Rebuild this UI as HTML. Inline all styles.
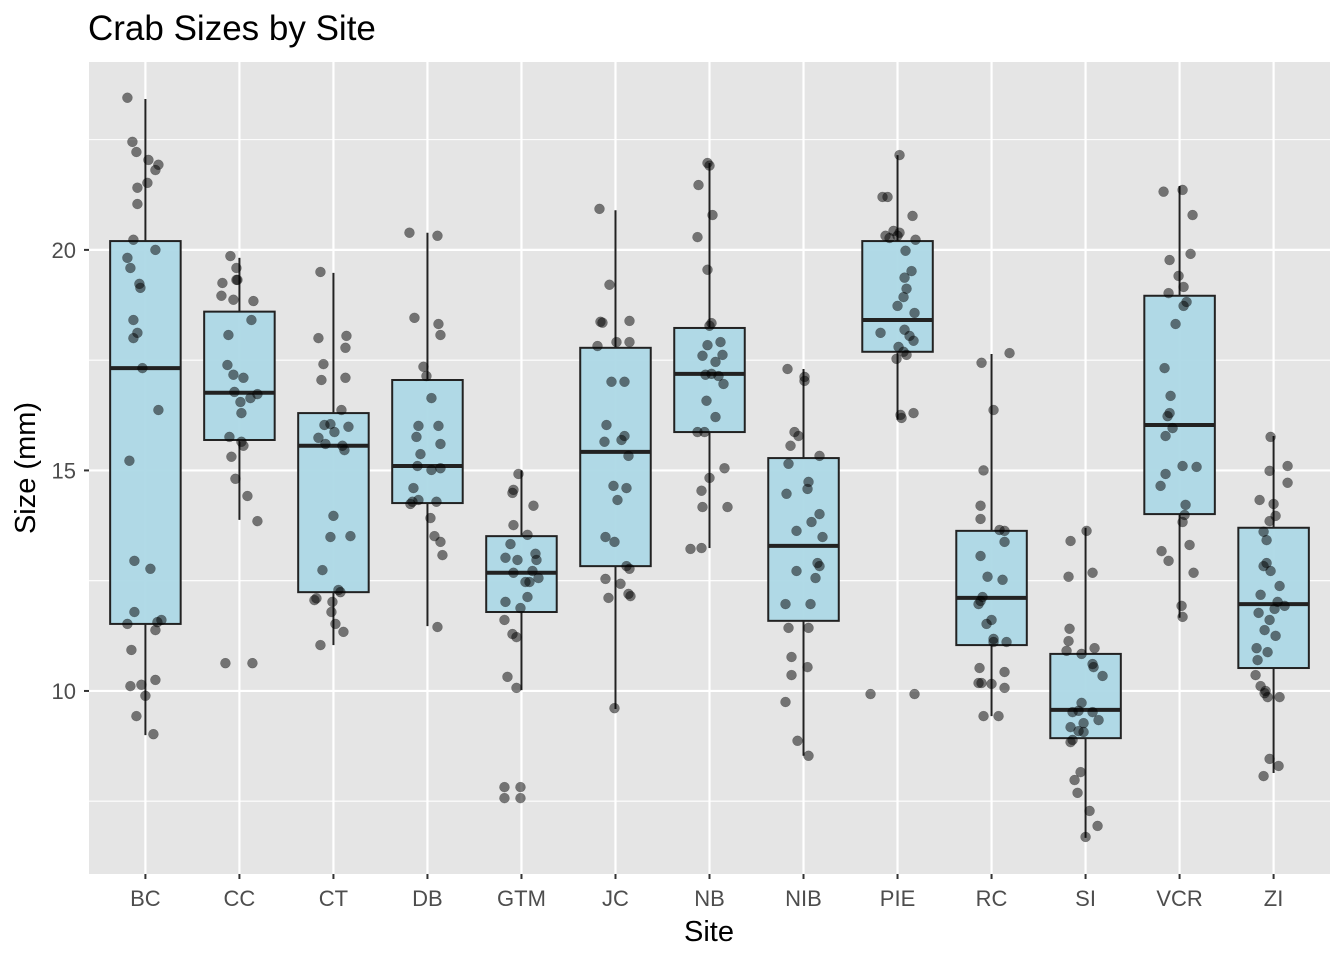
<!DOCTYPE html>
<html><head><meta charset="utf-8"><style>
html,body{margin:0;padding:0;background:#fff;}
svg{display:block;font-family:"Liberation Sans",Arial,sans-serif;}
</style></head><body>
<svg id="chart" width="1344" height="960" viewBox="0 0 1344 960">
<text x="88" y="40" font-size="35" fill="#000">Crab Sizes by Site</text>
<rect x="89" y="62" width="1241" height="812" fill="#e5e5e5"/>
<g id="grid"></g>
<g id="boxes"></g>
<g id="pts"></g>
<g id="axes"></g>
<text x="709" y="941" font-size="29" text-anchor="middle" fill="#000">Site</text>
<text transform="translate(35,468) rotate(-90)" font-size="29" text-anchor="middle" fill="#000">Size (mm)</text>
</svg>
<script>
const sites = ["BC","CC","CT","DB","GTM","JC","NB","NIB","PIE","RC","SI","VCR","ZI"];
// [lowerWhisker, q1, median, q3, upperWhisker]
const boxStats = [
[9.0,11.52,17.32,20.2,23.42],[13.88,15.69,16.76,18.6,19.82],[11.04,12.24,15.56,16.3,19.48],
[11.47,14.26,15.1,17.05,20.39],[10.02,11.79,12.68,13.51,15.0],[9.59,12.83,15.42,17.78,20.9],
[13.24,15.87,17.19,18.23,21.97],[8.53,11.59,13.29,15.28,17.3],[16.15,17.69,18.41,20.2,22.15],
[9.43,11.04,12.11,13.63,17.64],[6.67,8.93,9.57,10.84,13.7],[11.66,14.01,16.03,18.96,21.45],
[8.14,10.52,11.97,13.7,15.78]];
const yTicks = [10,15,20];
const yMinor = [7.5,12.5,17.5,22.5];
// point values per site
const values = [
[23.45,22.45,22.22,22.04,21.93,21.81,21.52,21.41,21.04,20.23,20.0,19.82,19.59,19.23,19.14,18.41,18.12,18.0,17.32,16.37,15.22,12.95,12.77,11.79,11.61,11.56,11.52,11.38,10.93,10.11,10.14,10.25,9.89,9.43,9.02],
[19.86,19.59,19.32,19.25,19.32,18.96,18.87,18.84,18.41,18.07,17.39,17.17,17.10,16.78,16.73,16.64,16.55,16.3,15.76,15.56,15.65,15.31,14.81,14.42,13.85,10.63,10.63],
[19.5,18.0,18.05,17.78,17.41,17.1,17.05,16.37,16.05,16.03,15.99,15.87,15.74,15.6,15.46,15.56,13.97,13.49,13.51,12.74,12.29,12.24,12.06,12.1,12.02,11.79,11.34,11.52,11.04],
[20.39,20.32,18.46,18.32,18.07,17.35,17.14,16.64,16.01,16.01,15.76,15.6,15.37,15.1,15.01,15.05,14.6,14.33,14.29,14.24,14.29,13.92,13.51,13.38,13.08,11.45],
[14.92,14.56,14.49,14.2,13.76,13.54,13.33,13.11,13.02,12.97,12.97,12.72,12.68,12.56,12.47,12.47,12.13,12.02,11.88,11.61,11.29,11.22,10.32,10.07,7.82,7.82,7.57,7.57],
[20.93,19.21,18.37,18.35,18.39,17.91,17.91,17.82,17.01,17.01,16.03,15.78,15.69,15.65,15.33,14.65,14.6,14.33,13.49,13.38,12.83,12.77,12.54,12.43,12.11,12.15,12.2,9.61],
[21.97,21.91,21.47,20.79,20.29,19.55,18.34,18.28,17.91,17.84,17.62,17.6,17.46,17.19,17.17,17.14,16.96,16.58,16.21,15.87,15.87,15.05,14.83,14.54,14.17,14.17,13.24,13.22],
[17.3,17.12,17.03,15.87,15.78,15.56,15.33,15.15,14.74,14.58,14.47,14.01,13.83,13.63,13.49,12.9,12.83,12.72,12.56,11.97,11.97,11.43,11.43,10.77,10.54,10.36,9.75,8.87,8.53],
[22.15,21.2,21.2,20.77,20.43,20.39,20.32,20.32,20.27,20.23,19.98,19.37,19.52,19.12,18.93,18.73,18.57,18.19,18.12,18.05,17.94,17.8,17.69,17.62,17.53,16.26,16.3,16.19,9.93,9.93],
[17.44,17.66,16.37,15.0,14.2,13.9,13.65,13.63,13.38,13.06,12.59,12.52,12.13,12.04,11.97,11.61,11.52,11.18,11.11,11.11,10.52,10.43,10.18,10.18,10.16,10.07,9.43,9.43],
[13.63,13.4,12.68,12.59,11.41,11.13,10.91,10.97,10.84,10.61,10.54,10.34,9.73,9.55,9.52,9.52,9.34,9.27,9.18,9.09,9.07,8.89,8.84,8.16,7.98,7.69,7.28,6.94,6.69],
[21.32,21.36,20.79,19.77,19.91,19.41,19.16,19.02,18.82,18.73,18.32,17.32,16.69,16.3,16.23,15.96,15.78,15.1,15.08,14.92,14.65,14.22,13.99,13.83,13.31,13.17,12.95,12.68,11.93,11.68],
[15.76,15.1,14.99,14.72,14.33,14.24,13.97,13.85,13.61,13.42,12.9,12.83,12.72,12.38,12.18,12.02,11.93,11.77,11.86,11.61,11.38,11.25,10.97,10.88,10.7,10.36,10.11,10.0,9.95,9.86,9.86,8.46,8.3,8.07]];
// horizontal jitter, in 1/94 of a category band
const jitter = [
[-18,-13,-9,3,13,10,2,-8,-8,-12,10,-18,-15,-6,-5,-12,-8,-12,-3,13,-16,-11,5,-11,16,12,-18,10,-14,-15,-4,10,0,-9,8],
[-9,-3,-2,-17,-3,-18,-6,14,12,-11,-12,-6,4,-5,18,11,1,2,-10,4,2,-8,-4,8,18,-14,13],
[-13,-15,13,12,-10,12,-12,8,-3,-9,15,1,-15,-8,11,9,0,-3,17,-11,5,7,-19,-17,-1,-2,10,2,-13],
[-18,10,-13,11,13,-4,-1,4,-9,11,-11,13,-7,-10,4,13,-14,-9,-15,-17,9,3,7,13,15,10],
[-3,-8,-9,12,-8,6,-11,14,-16,15,-4,11,-8,17,4,8,6,-16,-1,-17,-9,-5,-14,-5,-17,-1,-17,-1],
[-16,-6,-15,-13,14,14,1,-18,-4,9,-9,9,6,-11,13,-2,11,2,-10,-1,11,14,-10,5,-7,15,13,-1],
[-2,0,-11,3,-12,-2,2,0,11,-2,13,-7,6,2,-4,9,14,-3,6,-12,-5,15,0,-8,-7,18,-8,-19],
[-16,1,1,-9,-5,-13,16,-15,5,4,-17,16,8,-7,19,14,16,-7,12,-18,7,-15,5,-12,4,-12,-18,-6,5],
[2,-15,-10,15,-4,2,0,-12,-8,18,8,7,14,9,6,0,17,7,-17,12,16,1,6,9,-1,3,16,4,-27,17],
[-10,18,2,-8,-11,-11,8,13,13,-11,-4,11,-9,-11,-13,0,-5,2,2,15,-12,13,-13,-10,0,13,-8,7],
[1,-15,7,-17,-16,-17,-19,9,-4,7,8,17,-4,-7,-13,7,13,-2,-15,-7,-2,-13,-15,-5,-11,-8,4,12,0],
[-16,3,13,-10,11,-1,4,-11,7,4,-4,-15,-9,-10,-12,-7,-14,3,17,-14,-19,6,5,3,10,-18,-11,14,2,3],
[-3,14,-4,14,-14,0,2,-4,-10,-7,-7,-10,-3,6,-13,4,11,-15,1,-4,-9,2,-17,-6,-16,-18,-13,-8,-9,6,-6,-4,5,-10]];

const NS="http://www.w3.org/2000/svg";
const P={l:89,t:62,r:1330,b:874};
const yMin=5.85,yMax=24.26;
const band=(P.r-P.l)/(sites.length+0.2);
function y(v){return P.t+(yMax-v)/(yMax-yMin)*(P.b-P.t);}
function x(i){return P.l+band*(0.6+i);}
function mk(tag,attrs,parent){const e=document.createElementNS(NS,tag);for(const k in attrs)e.setAttribute(k,attrs[k]);parent.appendChild(e);return e;}
const grid=document.getElementById('grid'),boxes=document.getElementById('boxes'),pts=document.getElementById('pts'),axes=document.getElementById('axes');
yMinor.forEach(v=>{const l=mk('line',{x1:P.l,x2:P.r,y1:y(v),y2:y(v),stroke:'#fff','stroke-width':1.1},grid);

});
yTicks.forEach(v=>{const l=mk('line',{x1:P.l,x2:P.r,y1:y(v),y2:y(v),stroke:'#fff','stroke-width':2.2},grid);


const t=mk('line',{x1:P.l-5,x2:P.l,y1:y(v),y2:y(v),stroke:'#333','stroke-width':2},axes);


const tx=mk('text',{x:P.l-13,y:y(v)+8,'text-anchor':'end','font-size':22,fill:'#4d4d4d'},axes);tx.textContent=v;

});
sites.forEach((s,i)=>{const cx=x(i);
const l=mk('line',{x1:cx,x2:cx,y1:P.t,y2:P.b,stroke:'#fff','stroke-width':2.2},grid);


const t=mk('line',{x1:cx,x2:cx,y1:P.b,y2:P.b+5,stroke:'#333','stroke-width':2},axes);


const tx=mk('text',{x:cx,y:906,'text-anchor':'middle','font-size':22,fill:'#4d4d4d'},axes);tx.textContent=s;


const b=boxStats[i],hw=band*0.375;
const g=mk('g',{},boxes);


mk('line',{x1:cx,x2:cx,y1:y(b[4]),y2:y(b[3]),stroke:'#222','stroke-width':2},g);
mk('line',{x1:cx,x2:cx,y1:y(b[1]),y2:y(b[0]),stroke:'#222','stroke-width':2},g);
mk('rect',{x:cx-hw,y:y(b[3]),width:2*hw,height:y(b[1])-y(b[3]),fill:'#add8e6','fill-opacity':0.95,stroke:'#222','stroke-width':2},g);
mk('line',{x1:cx-hw,x2:cx+hw,y1:y(b[2]),y2:y(b[2]),stroke:'#222','stroke-width':4},g);
values[i].forEach((v,j)=>{const c=mk('circle',{cx:cx+jitter[i][j]/94*band,cy:y(v),r:5,fill:'#000','fill-opacity':0.5,stroke:'#000','stroke-opacity':0.3,'stroke-width':0.5},pts);

});
});
</script>
</body></html>
